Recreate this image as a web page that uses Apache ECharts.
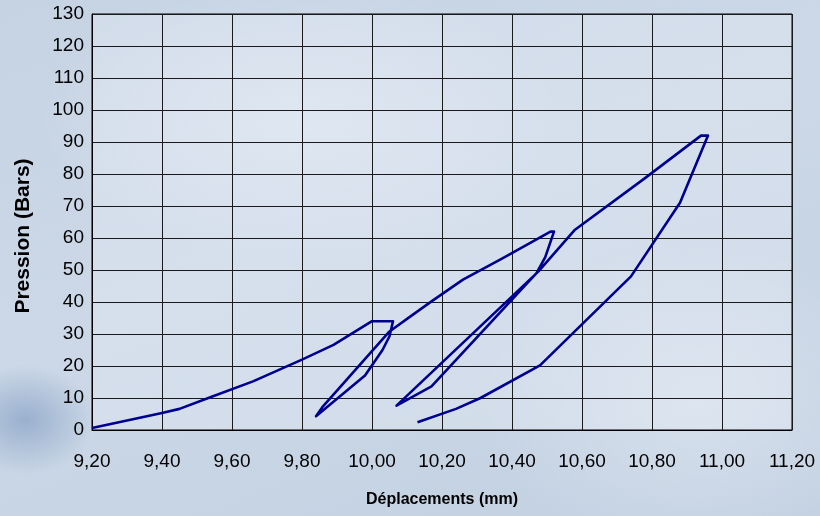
<!DOCTYPE html>
<html>
<head>
<meta charset="utf-8">
<script src="https://cdn.jsdelivr.net/npm/echarts@6/dist/echarts.min.js"></script>
<style>
  html, body { margin: 0; padding: 0; }
  body {
    width: 820px; height: 516px; overflow: hidden;
    background:
      radial-gradient(ellipse 70px 55px at 25px 420px, rgba(120,150,190,0.6), rgba(120,150,190,0) 100%),
      radial-gradient(ellipse 260px 140px at 300px 120px, rgba(235,240,248,0.5), rgba(235,240,248,0) 100%),
      radial-gradient(ellipse 220px 160px at 700px 400px, rgba(236,241,248,0.45), rgba(236,241,248,0) 100%),
      linear-gradient(160deg, #c6d3e3 0%, #ccd8e7 45%, #c2d0e1 100%);
  }
  #chart { width: 820px; height: 516px; }
</style>
</head>
<body>
<div id="chart"></div>
<script>
// déplacement (mm) / pression (bars), suivi du tracé dans l'ordre
const deplacement = [
  9.20, 9.40, 9.45, 9.54, 9.66, 9.80, 9.89, 10.00, 10.06,
  10.05, 10.03, 9.98, 9.84,
  9.86, 10.05, 10.11, 10.17, 10.26, 10.37, 10.51, 10.52,
  10.495, 10.47, 10.17, 10.07,
  10.475, 10.58, 10.78, 10.94, 10.96,
  10.88, 10.74, 10.48, 10.31, 10.24, 10.13
];
const pression = [
  0.6, 5.3, 6.6, 10.3, 15.2, 22.0, 26.6, 34.0, 34.0,
  29.3, 25.0, 17.0, 4.3,
  7.4, 30.8, 35.5, 40.2, 47.0, 53.5, 62.0, 62.0,
  54.0, 49.0, 13.6, 7.6,
  49.5, 62.6, 78.7, 92.0, 92.0,
  71.0, 48.0, 20.2, 10.0, 6.6, 2.4
];
const xMin = 9.2, xMax = 11.2, xStep = 0.2;
const yMin = 0, yMax = 130, yStep = 10;

const points = deplacement.map((x, i) => [x, pression[i]]);
const fmt = v => v.toFixed(2).replace('.', ',');

const chart = echarts.init(document.getElementById('chart'));
chart.setOption({
  backgroundColor: 'transparent',
  animation: false,
  textStyle: { fontFamily: 'Liberation Sans, Arial, sans-serif' },
  grid: {
    left: 92, right: 28, top: 14, bottom: 86,
    show: true,
    backgroundColor: 'rgba(232,238,246,0.35)',
    borderColor: '#000', borderWidth: 1
  },
  xAxis: {
    type: 'value',
    min: xMin, max: xMax, interval: xStep,
    name: 'Déplacements (mm)',
    nameLocation: 'middle',
    nameGap: 62,
    nameTextStyle: { fontSize: 16, fontWeight: 'bold', color: '#000' },
    axisLine: { show: true, lineStyle: { color: '#000', width: 1 } },
    axisTick: { show: false },
    axisLabel: { fontSize: 19, color: '#000', margin: 22, formatter: fmt },
    splitLine: { show: true, lineStyle: { color: '#1a1a1a', width: 1 } }
  },
  yAxis: {
    type: 'value',
    min: yMin, max: yMax, interval: yStep,
    name: 'Pression (Bars)',
    nameLocation: 'middle',
    nameGap: 58,
    nameTextStyle: { fontSize: 21, fontWeight: 'bold', color: '#000', padding: [0, 28, 0, 0] },
    axisLine: { show: true, lineStyle: { color: '#000', width: 1 } },
    axisTick: { show: false },
    axisLabel: { fontSize: 19, color: '#000', margin: 8 },
    splitLine: { show: true, lineStyle: { color: '#1a1a1a', width: 1 } }
  },
  series: [{
    type: 'line',
    data: points,
    showSymbol: false,
    lineStyle: { color: '#000090', width: 2.6, join: 'round' }
  }]
});
</script>
</body>
</html>
